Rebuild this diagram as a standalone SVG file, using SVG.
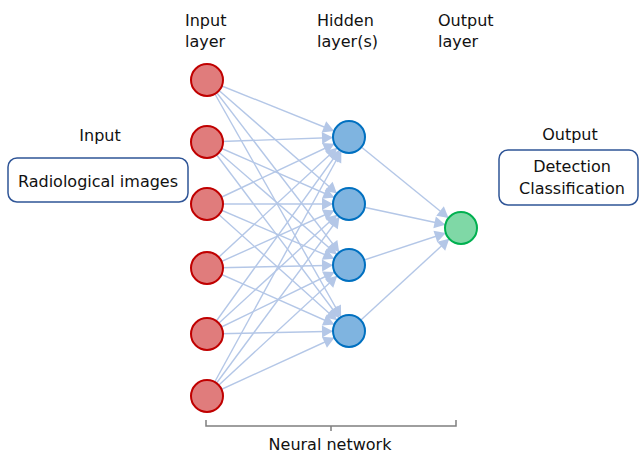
<svg xmlns="http://www.w3.org/2000/svg" width="642" height="456" viewBox="0 0 642 456">
<style>
text{font-family:"DejaVu Sans","Liberation Sans",sans-serif;font-size:16px;fill:#111}
.c{text-anchor:middle}
.ln{stroke:#b4c7e7;stroke-width:1.4;fill:none;marker-end:url(#ah)}
.in{fill:#e07c7c;stroke:#c00000;stroke-width:2}
.hd{fill:#7fb4e0;stroke:#0070c0;stroke-width:2}
.out{fill:#7fd8a6;stroke:#00b050;stroke-width:2}
.box{fill:#fff;stroke:#2f5597;stroke-width:1.5}
</style>
<defs>
<marker id="ah" markerUnits="userSpaceOnUse" markerWidth="30" markerHeight="14" refX="27" refY="6" orient="auto" overflow="visible">
<path d="M0,0 L11,6 L0,12 z" fill="#b4c7e7"/>
</marker>
</defs>
<g id="labels">
<text x="185" y="26">Input</text><text x="185" y="47">layer</text>
<text x="317" y="26">Hidden</text><text x="317" y="47">layer(s)</text>
<text x="438" y="26">Output</text><text x="438" y="47">layer</text>
</g>
<g id="connectors">
<line class="ln" x1="207" y1="80" x2="349" y2="137"/><line class="ln" x1="207" y1="80" x2="349" y2="204"/><line class="ln" x1="207" y1="80" x2="349" y2="265"/><line class="ln" x1="207" y1="80" x2="349" y2="331"/>
<line class="ln" x1="207" y1="142" x2="349" y2="137"/><line class="ln" x1="207" y1="142" x2="349" y2="204"/><line class="ln" x1="207" y1="142" x2="349" y2="265"/><line class="ln" x1="207" y1="142" x2="349" y2="331"/>
<line class="ln" x1="207" y1="204" x2="349" y2="137"/><line class="ln" x1="207" y1="204" x2="349" y2="204"/><line class="ln" x1="207" y1="204" x2="349" y2="265"/><line class="ln" x1="207" y1="204" x2="349" y2="331"/>
<line class="ln" x1="207" y1="268" x2="349" y2="137"/><line class="ln" x1="207" y1="268" x2="349" y2="204"/><line class="ln" x1="207" y1="268" x2="349" y2="265"/><line class="ln" x1="207" y1="268" x2="349" y2="331"/>
<line class="ln" x1="207" y1="334" x2="349" y2="137"/><line class="ln" x1="207" y1="334" x2="349" y2="204"/><line class="ln" x1="207" y1="334" x2="349" y2="265"/><line class="ln" x1="207" y1="334" x2="349" y2="331"/>
<line class="ln" x1="207" y1="396" x2="349" y2="137"/><line class="ln" x1="207" y1="396" x2="349" y2="204"/><line class="ln" x1="207" y1="396" x2="349" y2="265"/><line class="ln" x1="207" y1="396" x2="349" y2="331"/>
<line class="ln" x1="349" y1="137" x2="461" y2="228"/><line class="ln" x1="349" y1="204" x2="461" y2="228"/><line class="ln" x1="349" y1="265" x2="461" y2="228"/><line class="ln" x1="349" y1="331" x2="461" y2="228"/>
</g>
<g id="input-layer">
<circle class="in" cx="207" cy="80" r="16"/><circle class="in" cx="207" cy="142" r="16"/><circle class="in" cx="207" cy="204" r="16"/>
<circle class="in" cx="207" cy="268" r="16"/><circle class="in" cx="207" cy="334" r="16"/><circle class="in" cx="207" cy="396" r="16"/>
</g>
<g id="hidden-layer">
<circle class="hd" cx="349" cy="137" r="16"/><circle class="hd" cx="349" cy="204" r="16"/><circle class="hd" cx="349" cy="265" r="16"/><circle class="hd" cx="349" cy="331" r="16"/>
</g>
<g id="output-layer"><circle class="out" cx="461" cy="228" r="16"/></g>
<g id="input-box">
<text class="c" x="100" y="141">Input</text>
<rect class="box" x="8" y="158" width="180" height="44" rx="9"/>
<text class="c" x="98" y="187">Radiological images</text>
</g>
<g id="output-box">
<text class="c" x="570" y="140">Output</text>
<rect class="box" x="499" y="150" width="139" height="55" rx="9"/>
<text class="c" x="572" y="172">Detection</text>
<text class="c" x="572" y="194">Classification</text>
</g>
<g id="neural-network">
<path d="M206,420 V426 H456 V420 M331,426 V431" fill="none" stroke="#7f7f7f" stroke-width="1.5"/>
<text class="c" x="330" y="450">Neural network</text>
</g>
</svg>
